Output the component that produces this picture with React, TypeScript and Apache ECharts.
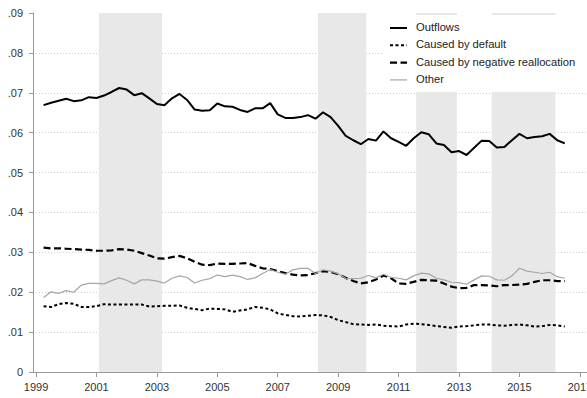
import React, { useEffect, useRef } from "react";
import * as echarts from "echarts";

// Quarterly observations, first quarter at 1999.25, one point every quarter
const FIRST_QUARTER = 1999.25;
const QUARTER_STEP = 0.25;

const outflows = [
  0.0669, 0.0675, 0.068,
  0.0685, 0.0679, 0.0681, 0.0689,
  0.0687, 0.0693, 0.0702, 0.0712,
  0.0708, 0.0694, 0.0699, 0.0686,
  0.0672, 0.0669, 0.0686, 0.0697,
  0.0682, 0.0658, 0.0655, 0.0656,
  0.0673, 0.0666, 0.0665, 0.0657,
  0.0652, 0.0661, 0.0661, 0.0674,
  0.0646, 0.0637, 0.0637, 0.0639,
  0.0644, 0.0635, 0.0651, 0.0639,
  0.0617, 0.0592, 0.0581, 0.0571,
  0.0584, 0.058, 0.0603, 0.0586,
  0.0577, 0.0567, 0.0586, 0.0601,
  0.0596, 0.0573, 0.0569, 0.0551,
  0.0554, 0.0544, 0.0562, 0.058,
  0.0579, 0.0563, 0.0564, 0.0581,
  0.0597, 0.0586, 0.0589, 0.0591,
  0.0597, 0.0581, 0.0573,
];

const causedByDefault = [
  0.0165, 0.0163, 0.017,
  0.0173, 0.0171, 0.0163, 0.0163,
  0.0165, 0.017, 0.0169, 0.0169,
  0.0169, 0.0169, 0.0169, 0.0164,
  0.0165, 0.0166, 0.0166, 0.0167,
  0.0161, 0.0158, 0.0155, 0.0159,
  0.0158, 0.0157, 0.0151, 0.0154,
  0.0157, 0.0163, 0.0161, 0.0157,
  0.0147, 0.0143, 0.014, 0.0139,
  0.0141, 0.0143, 0.0142, 0.0138,
  0.013, 0.0125, 0.012, 0.0119,
  0.0118, 0.0119, 0.0116, 0.0115,
  0.0114, 0.0119, 0.0121, 0.012,
  0.0118, 0.0115, 0.0113, 0.0111,
  0.0114, 0.0115, 0.0117, 0.0119,
  0.0119, 0.0117, 0.0116, 0.0118,
  0.0119, 0.0117, 0.0114, 0.0115,
  0.0118, 0.0117, 0.0114,
];

const causedByNegativeReallocation = [
  0.0312, 0.031, 0.031,
  0.0309, 0.0308, 0.0307, 0.0306,
  0.0304, 0.0304, 0.0305, 0.0308,
  0.0307, 0.0304, 0.0298, 0.0292,
  0.0285, 0.0284, 0.0288, 0.0291,
  0.0285, 0.0276, 0.0269, 0.0268,
  0.0272, 0.0271, 0.0271, 0.0272,
  0.0273, 0.0266, 0.026, 0.0258,
  0.0253, 0.0248, 0.0244, 0.0242,
  0.0243, 0.0248, 0.0253, 0.0251,
  0.0245, 0.0236, 0.0228, 0.0222,
  0.0225, 0.0232, 0.0242, 0.0235,
  0.0222, 0.0221, 0.0226, 0.0231,
  0.023, 0.0229, 0.0222, 0.0214,
  0.021, 0.0211, 0.0218, 0.0218,
  0.0217, 0.0215, 0.0218, 0.0218,
  0.0219, 0.0221, 0.0226, 0.023,
  0.023, 0.0228, 0.0228,
];

const other = [
  0.0187, 0.0201, 0.0197,
  0.0204, 0.02, 0.0218, 0.0222,
  0.0222, 0.0221, 0.0229, 0.0236,
  0.023, 0.0221, 0.0231, 0.0231,
  0.0228, 0.0223, 0.0235, 0.0241,
  0.0237, 0.0223, 0.023, 0.0234,
  0.0243, 0.0239, 0.0243, 0.0239,
  0.0232, 0.0236, 0.0247, 0.0257,
  0.025, 0.0245, 0.0256, 0.026,
  0.026, 0.0247, 0.0256, 0.0253,
  0.0246, 0.0235, 0.0234, 0.0235,
  0.0242, 0.0236, 0.0245, 0.0237,
  0.0235, 0.0231, 0.0241, 0.0248,
  0.0246, 0.0235, 0.0231, 0.0225,
  0.0224, 0.022, 0.0231, 0.0241,
  0.024, 0.0231, 0.023, 0.0241,
  0.026, 0.0253, 0.025, 0.0247,
  0.025, 0.0239, 0.0235,
];

// Shaded periods (start, end) in fractional years
const shadedPeriods: [number, number][] = [
  [2001.08, 2003.17],
  [2008.33, 2009.93],
  [2011.58, 2012.93],
  [2014.08, 2016.19],
];

const yearTicks = [1999, 2001, 2003, 2005, 2007, 2009, 2011, 2013, 2015, 2017];

const seriesNames = [
  "Outflows",
  "Caused by default",
  "Caused by negative reallocation",
  "Other",
];

const FONT = "Liberation Sans, Arial, sans-serif";

type LineLook = { color: string; width: number; dash: number[] | null };

const looks: LineLook[] = [
  { color: "#000000", width: 2, dash: null },
  { color: "#000000", width: 2, dash: [3, 2.5] },
  { color: "#000000", width: 2.2, dash: [7, 3.5] },
  { color: "#a6a6a6", width: 1.2, dash: null },
];

const toPoints = (values: number[]) =>
  values.map((v, i) => [FIRST_QUARTER + i * QUARTER_STEP, v]);

const formatShare = (v: number) => {
  const hundredths = Math.round(v * 100);
  if (hundredths === 0) return "0";
  return "." + String(hundredths).padStart(2, "0");
};

// Hand-built key: white box with a line sample and a label per series
const buildKey = () => {
  const boxLeft = 382;
  const boxTop = 15;
  const rowTop = 28;
  const rowStep = 17.3;
  const sampleLeft = 390;
  const sampleRight = 407;
  const textLeft = 416;
  const elements: any[] = [
    {
      type: "rect",
      z: 50,
      shape: { x: boxLeft, y: boxTop, width: 240, height: 77 },
      style: { fill: "#ffffff" },
      silent: true,
    },
  ];
  seriesNames.forEach((name, i) => {
    const y = rowTop + i * rowStep;
    const look = looks[i];
    elements.push({
      type: "line",
      z: 51,
      shape: { x1: sampleLeft, y1: y, x2: sampleRight, y2: y },
      style: {
        stroke: look.color,
        lineWidth: look.width,
        lineDash: look.dash ?? undefined,
      },
      silent: true,
    });
    elements.push({
      type: "text",
      z: 51,
      left: textLeft,
      top: y - 6.5,
      style: {
        text: name,
        fill: "#222222",
        fontSize: 11.2,
        fontFamily: FONT,
      },
      silent: true,
    });
  });
  return elements;
};

export default function App() {
  const ref = useRef<HTMLDivElement>(null);

  useEffect(() => {
    if (!ref.current) return;
    const chart = echarts.init(ref.current, undefined, { renderer: "svg" });

    const axisGray = "#9a9a9a";

    const series: any[] = [
      [outflows, 0],
      [causedByDefault, 1],
      [causedByNegativeReallocation, 2],
      [other, 3],
    ].map(([values, idx]: any) => {
      const look = looks[idx];
      const s: any = {
        name: seriesNames[idx],
        type: "line",
        data: toPoints(values),
        symbol: "none",
        silent: true,
        z: 3,
        lineStyle: {
          color: look.color,
          width: look.width,
          type: look.dash ?? "solid",
        },
        itemStyle: { color: look.color },
      };
      if (idx === 0) {
        s.markArea = {
          silent: true,
          itemStyle: { color: "#e8e8e8" },
          data: shadedPeriods.map(([a, b]) => [{ xAxis: a }, { xAxis: b }]),
        };
      }
      return s;
    });

    chart.setOption({
      animation: false,
      backgroundColor: "#ffffff",
      textStyle: { fontFamily: FONT },
      grid: {
        left: 33,
        top: 13,
        width: 562,
        bottom: 26,
        containLabel: false,
        outerBoundsMode: "none",
      },
      xAxis: {
        type: "value",
        min: 1998.9,
        max: 2017.5,
        offset: 2,
        axisLine: { show: true, lineStyle: { color: axisGray, width: 1 } },
        axisTick: {
          show: true,
          length: 5,
          customValues: yearTicks,
          lineStyle: { color: axisGray },
        },
        axisLabel: {
          customValues: yearTicks,
          fontSize: 11,
          color: "#333",
          margin: 7,
          fontFamily: FONT,
          formatter: (v: number) => String(Math.round(v)),
        },
        splitLine: { show: false },
      },
      yAxis: {
        type: "value",
        min: 0,
        max: 0.09,
        interval: 0.01,
        axisLine: { show: true, lineStyle: { color: axisGray, width: 1 } },
        axisTick: { show: true, length: 4, lineStyle: { color: axisGray } },
        axisLabel: {
          fontSize: 11,
          color: "#333",
          margin: 10,
          fontFamily: FONT,
          formatter: formatShare,
        },
        splitLine: {
          show: true,
          showMinLine: false,
          showMaxLine: false,
          lineStyle: { color: "#cfcfcf", type: [1, 2], width: 1 },
        },
      },
      graphic: { elements: buildKey() },
      series,
    });

    return () => chart.dispose();
  }, []);

  return (
    <div
      ref={ref}
      style={{ position: "fixed", left: 0, top: 0, width: 587, height: 398 }}
    />
  );
}
